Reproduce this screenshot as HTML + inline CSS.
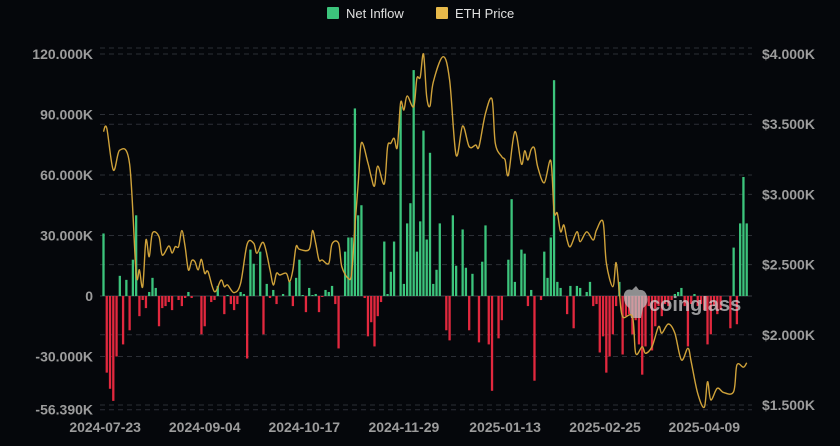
<!DOCTYPE html>
<html><head><meta charset="utf-8"><style>
html,body{margin:0;padding:0;background:#05070b;}
svg{display:block;font-family:"Liberation Sans",sans-serif;}
</style></head><body>
<svg id="chart" width="840" height="446" viewBox="0 0 840 446">
<rect x="0" y="0" width="840" height="446" fill="#05070b"/>
<g>
<g><rect x="327" y="7" width="12" height="12" rx="1" fill="#3cc47c"/><text x="346" y="18" font-size="13" fill="#e0e0e0">Net Inflow</text></g>
<g><rect x="436" y="7" width="12" height="12" rx="1" fill="#e7b94a"/><text x="455" y="18" font-size="13" fill="#e0e0e0">ETH Price</text></g>
</g>
<g id="grid"></g>
<g id="bars"></g>
<g opacity="0.7">
<path d="M624 294 q2 -6 8 -4 l4 -4 l3 4 q6 -1 8 6 q2 8 -4 12 l-2 10 l-10 0 l-2 -10 q-6 -4 -5 -14z" fill="#c8c8c8"/>
<text x="649" y="311" font-size="20" font-weight="bold" fill="#d8d8d8">coinglass</text>
</g>
<path id="price" fill="none" stroke="#cfa23a" stroke-width="1.4"/>
<g id="axes"></g>
</svg>
<script>
const netInflow=[31,-38,-46,-52,-30,10,-24,8,-17,18,40,
-10,-2,-6,2,9,4,-15,-6,-5,-3,
-7,0,-2,-5,-1,2,-1,0,0,-19,
-15,0,-3,-2,5,0,-9,0.5,-4,-7,
-4,2,1,-31,23,16,0,22,-19,6,
-1,3,-4,0,1,0,7,-5,9,18,
0.5,-8,4,0.5,1,-8,-0.5,3,2,5,
-4,-26,0,22,29,29,93,40,45,-1,
-20,-13,-25,-10,-3,27,1,12,27,0,
94,6,36,46,112,22,37,82,28,71,
6,13,36,0,-17,-22,40,15,0,33,
14,-17,11,0,-23,17,35,-24,-47,0,
-21,-12,0,18,48,7,0,23,21,-5,
3,-42,0,-2,22,9,29,107,7,4,
0,-9,5,-16,5,4,0,2,7,-5,
-4,-28,-20,-38,-30,-19,-5,7,-29,-10,
-9,-19,-12,-24,-39,-25,-5,-27,-15,-5,
-10,-4,-5,-2,1,2,4,-5,-25,-4,
1,-5,-4,-7,-24,-19,-5,-9,-7,0,
0,-16,24,-14,36,59,36];
const priceIdx=[0,1,3,5,8,10,11,12,13,14,15,17,18,20,21,22,23,24,25,26,27,28,29,30,31,32,34,36,37,38,40,42,44,46,47,49,51,52,53,54,56,57,58,59,60,63,64,65,66,67,69,70,72,73,75,76,77,78,79,81,82,83,84,86,87,88,89,90,91,92,93,95,96,97,98,99,100,101,104,106,108,110,112,114,115,117,119,120,122,123,124,126,128,129,130,131,132,133,135,137,138,139,140,141,142,143,145,146,148,150,151,153,154,156,157,158,159,162,163,165,166,168,170,171,173,175,177,179,180,182,184,185,186,188,190,193,194,196,197];
const priceVal=[3447,3471,3174,3316,3217,2440,2462,2343,2675,2556,2725,2699,2568,2633,2583,2628,2628,2742,2628,2462,2528,2521,2462,2538,2438,2450,2307,2390,2343,2355,2300,2367,2647,2652,2581,2656,2462,2355,2438,2426,2438,2378,2462,2628,2609,2609,2742,2652,2533,2533,2509,2647,2652,2485,2402,2438,2770,3079,3368,3222,3126,3060,3202,3074,3340,3364,3400,3336,3653,3601,3701,3625,3827,3834,4000,3696,3630,3800,3981,3815,3281,3487,3340,3352,3340,3578,3678,3364,3269,3245,3138,3447,3217,3311,3245,3321,3328,3197,3083,3240,2877,2866,2734,2782,2675,2628,2734,2663,2734,2675,2746,2806,2514,2343,2514,2296,2129,2129,1868,1915,1868,1915,2058,2011,2077,2011,1821,1904,1808,1583,1484,1666,1536,1619,1588,1595,1785,1769,1801];
const leftTicks=[120,90,60,30,0,-30,-56.39];
const leftTickLabels=["120.000K","90.000K","60.000K","30.000K","0","-30.000K","-56.390K"];
const rightTicks=[4000,3500,3000,2500,2000,1500];
const rightTickLabels=["$4.000K","$3.500K","$3.000K","$2.500K","$2.000K","$1.500K"];
const dateIdx=[0.5,31,61.5,92,123,153.6,184];
const dateLabels=["2024-07-23","2024-09-04","2024-10-17","2024-11-29","2025-01-13","2025-02-25","2025-04-09"];

const NS="http://www.w3.org/2000/svg";
const X0=103.5,X1=746.7,PL=100,PR=752;
const n=netInflow.length;
const xScale=i=>X0+i*(X1-X0)/(n-1);
const yLeft=v=>296-v*2.017;
const yRight=p=>405-(p-1500)*0.14039;
function mk(tag,attrs,parent){const e=document.createElementNS(NS,tag);for(const k in attrs)e.setAttribute(k,attrs[k]);parent.appendChild(e);return e;}
const gridG=document.getElementById('grid'),barsG=document.getElementById('bars'),axesG=document.getElementById('axes');
const LBL={'font-size':14,'font-weight':'bold',fill:'#9c9c9c'};

const topLine=mk('line',{x1:PL,x2:PR,y1:48,y2:48,stroke:'#2c2f36','stroke-dasharray':'5,4'},gridG);


leftTicks.forEach((t,k)=>{
  const y=yLeft(t);
  const l=mk('line',{x1:PL,x2:PR,y1:y,y2:y,stroke:t===0?'#3a3d44':'#2c2f36','stroke-dasharray':t===0?'none':'5,4'},gridG);
  
  
  const tx=mk('text',Object.assign({x:93,y:y+5,'text-anchor':'end'},LBL),axesG);
  tx.textContent=leftTickLabels[k];
  
  
});
rightTicks.forEach((t,k)=>{
  const y=yRight(t);
  const l=mk('line',{x1:PL,x2:PR,y1:y,y2:y,stroke:'#2c2f36','stroke-dasharray':'5,4'},gridG);
  
  
  const tx=mk('text',Object.assign({x:762,y:y+5},LBL),axesG);
  tx.textContent=rightTickLabels[k];
  
  
});
dateIdx.forEach((d,k)=>{
  const tx=mk('text',Object.assign({x:xScale(d),y:432,'text-anchor':'middle'},LBL),axesG);
  tx.textContent=dateLabels[k];
  
  
});
netInflow.forEach((v,i)=>{
  const y0=yLeft(0),y=yLeft(v);
  const r=mk('rect',{x:xScale(i)-1.15,width:2.3,y:Math.min(y,y0),height:Math.max(Math.abs(y0-y),0.01),fill:v>=0?'#3cc47c':'#e2283e'},barsG);
  
  
});
const pts=priceIdx.map((d,k)=>[xScale(d),yRight(priceVal[k])]);
let dstr='M'+pts[0][0].toFixed(1)+' '+pts[0][1].toFixed(1);
for(let i=0;i<pts.length-1;i++){
  const p0=pts[i-1]||pts[i],p1=pts[i],p2=pts[i+1],p3=pts[i+2]||p2;
  const c1=[p1[0]+(p2[0]-p0[0])/6,p1[1]+(p2[1]-p0[1])/6];
  const c2=[p2[0]-(p3[0]-p1[0])/6,p2[1]-(p3[1]-p1[1])/6];
  dstr+=' C'+c1[0].toFixed(1)+' '+c1[1].toFixed(1)+' '+c2[0].toFixed(1)+' '+c2[1].toFixed(1)+' '+p2[0].toFixed(1)+' '+p2[1].toFixed(1);
}
document.getElementById('price').setAttribute('d',dstr);
</script>
</body></html>
